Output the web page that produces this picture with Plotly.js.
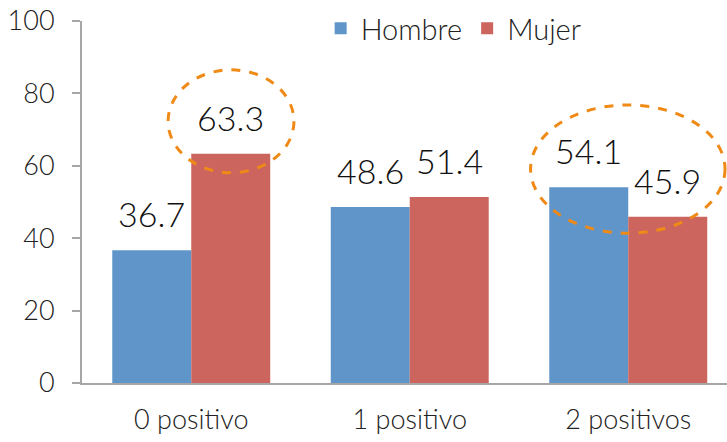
<!DOCTYPE html>
<html>
<head>
<meta charset="utf-8">
<script src="https://cdn.plot.ly/plotly-3.0.1.min.js"></script>
<style>html,body{margin:0;padding:0;background:#fff;}#chart{width:727px;height:442px;}</style>
</head>
<body>
<div id="chart"></div>
<script>
const categories = ["0 positivo", "1 positivo", "2 positivos"];
const hombre = [36.7, 48.6, 54.1];
const mujer = [63.3, 51.4, 45.9];
const seriesNames = ["Hombre", "Mujer"];
const yTicks = [0, 20, 40, 60, 80, 100];

const FONT = "Lato, 'Open Sans', sans-serif";
const blue = "#6095C9";
const red = "#CB655E";

const traces = [
  {type: "bar", name: seriesNames[0], x: categories, y: hombre, marker: {color: blue}, hoverinfo: "none"},
  {type: "bar", name: seriesNames[1], x: categories, y: mujer, marker: {color: red}, hoverinfo: "none"}
];

const annotations = [];
[hombre, mujer].forEach((vals, si) => {
  vals.forEach((v, i) => {
    annotations.push({
      x: categories[i], y: v, xref: "x", yref: "y",
      text: v.toFixed(1), showarrow: false,
      xshift: si === 0 ? -39.5 : 39.5, yshift: 14,
      yanchor: "bottom",
      font: {family: FONT, size: 34, color: "#111", weight: 300}
    });
  });
});

const layout = {
  width: 727, height: 442,
  margin: {l: 82, r: 0, t: 21, b: 59},
  paper_bgcolor: "#fff", plot_bgcolor: "#fff",
  barmode: "group", bargap: 0.277, bargroupgap: 0,
  font: {family: FONT, color: "#222"},
  showlegend: true,
  legend: {orientation: "h", x: 0.37, xanchor: "left", y: 1.05, yanchor: "top",
           font: {family: FONT, size: 29, color: "#222", weight: 300}, traceorder: "normal",
           itemwidth: 30, bgcolor: "rgba(0,0,0,0)"},
  xaxis: {
    type: "category", range: [-0.5, 2.452],
    showline: true, linecolor: "#A6A6A6", linewidth: 2,
    ticks: "", showgrid: false, zeroline: false, ticklabelstandoff: 12,
    tickfont: {family: FONT, size: 27, color: "#222", weight: 300}
  },
  yaxis: {
    range: [0, 100], tickvals: yTicks, ticktext: yTicks.map(String),
    showline: true, linecolor: "#A6A6A6", linewidth: 2,
    ticks: "outside", ticklen: 8, tickwidth: 2, tickcolor: "#A6A6A6",
    showgrid: false, zeroline: false, ticklabelstandoff: 12,
    tickfont: {family: FONT, size: 27, color: "#222", weight: 300}
  },
  annotations: annotations,
  shapes: [
    {type: "circle", xref: "x", yref: "y", x0: -0.106, x1: 0.470, y0: 58.1, y1: 86.5,
     line: {color: "#F08A16", width: 3, dash: "dash"}},
    {type: "circle", xref: "x", yref: "y", x0: 1.553, x1: 2.443, y0: 41.4, y1: 76.8,
     line: {color: "#F08A16", width: 3, dash: "dash"}}
  ]
};

Plotly.newPlot("chart", traces, layout, {staticPlot: true, displayModeBar: false});
</script>
</body>
</html>
